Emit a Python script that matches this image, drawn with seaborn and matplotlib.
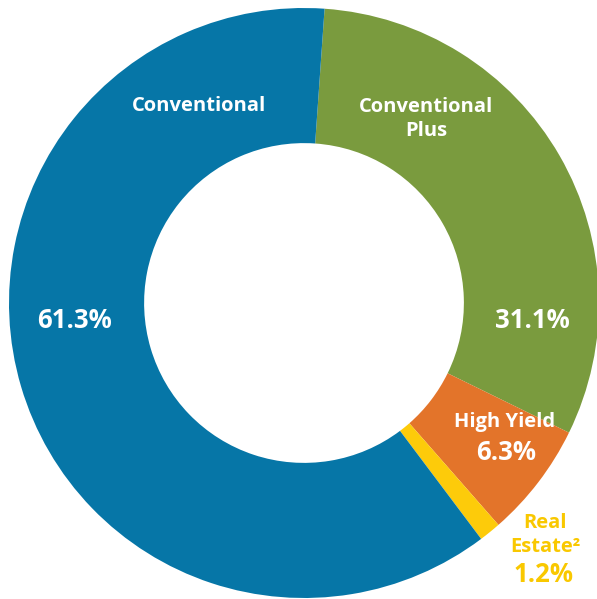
import matplotlib
matplotlib.use("Agg")
import matplotlib.pyplot as plt
import seaborn as sns

# ---- data ----
categories = ["Conventional Plus", "High Yield", "Real Estate", "Conventional"]
shares = [31.1, 6.3, 1.2, 61.3]
value_labels = ["31.1%", "6.3%", "1.2%", "61.3%"]
name_labels = ["Conventional\nPlus", "High Yield", "Real\nEstate²", "Conventional"]

# ---- style ----
colors = ["#7A9B3E", "#E3742A", "#FDCB0A", "#0676A7"]
sns.set_theme(style="white")
plt.rcParams["font.family"] = ["Open Sans", "DejaVu Sans"]

W, H = 597, 599
CX, CY, R = 304, 303, 295

fig = plt.figure(figsize=(W / 100, H / 100), dpi=100)
ax = fig.add_axes([(CX - R) / W, (H - CY - R) / H, 2 * R / W, 2 * R / H])
ax.pie(shares, colors=colors, startangle=86, counterclock=False,
       radius=1.0, wedgeprops=dict(width=0.458, linewidth=0))
ax.set_xlim(-1, 1)
ax.set_ylim(-1, 1)
ax.set_aspect("auto")
ax.axis("off")


def px(x, y):
    return (x - CX) / R, (CY - y) / R


# label layout (pixel positions in the image)
white = "white"
NAME, VAL = 14.5, 18.5
txt = [
    (name_labels[3], 199, 106, NAME, white),
    (value_labels[3], 75, 320, VAL, white),
    (name_labels[0], 426, 119, NAME, white),
    (value_labels[0], 532, 320, VAL, white),
    (name_labels[1], 505, 422, NAME, white),
    (value_labels[1], 506, 453, VAL, white),
    (name_labels[2], 545, 535, NAME, "#F9C800"),
    (value_labels[2], 544, 574, VAL, "#F9C800"),
]
for s, x, y, size, c in txt:
    dx, dy = px(x, y)
    ax.text(dx, dy, s, ha="center", va="center", fontsize=size,
            fontweight="bold", color=c, linespacing=1.22)

fig.savefig("out.png", dpi=100)
